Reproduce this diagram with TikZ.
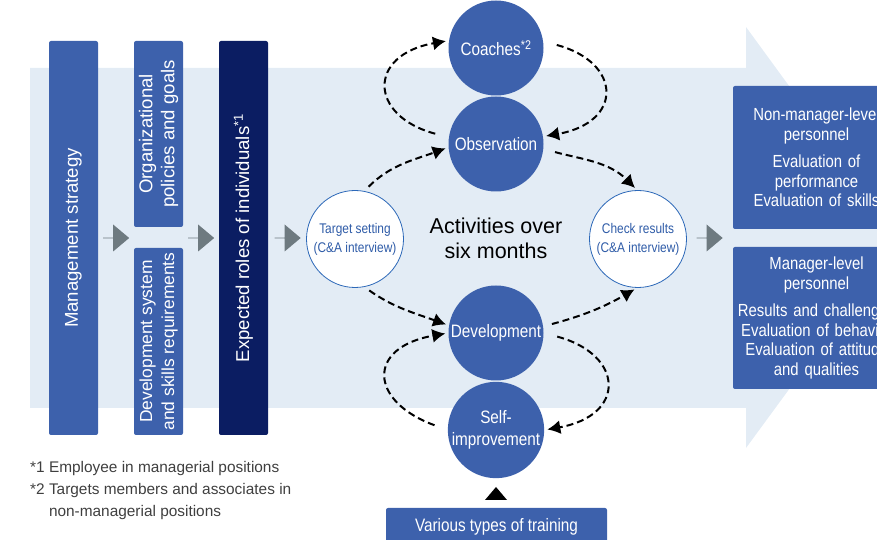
\documentclass[tikz,border=0pt]{standalone}
\usepackage{fontspec}
\setmainfont{Liberation Sans}
\newfontfamily\condfont[FakeStretch=0.85]{Liberation Sans}
\usetikzlibrary{arrows.meta,shapes.arrows}
\definecolor{midblue}{HTML}{3D61AC}
\definecolor{navy}{HTML}{0B1D62}
\definecolor{paleblue}{HTML}{E3ECF5}
\definecolor{arrowgray}{HTML}{6E7A80}
\definecolor{ringblue}{HTML}{2C68B8}
\definecolor{ringtext}{HTML}{2F5CA8}
\definecolor{notegray}{HTML}{3F3F3F}
\tikzset{
  column/.style = {rounded corners = 2pt, rotate = 90, text = white, align = center,
                   inner sep = 0pt, minimum height = 49pt,
                   font = \fontsize{18.6}{22}\selectfont},
  bluecol/.style = {column, fill = midblue},
  navycol/.style = {column, fill = navy},
  flowarrow/.style = {single arrow, fill = arrowgray, inner sep = 0pt,
                      minimum width = 27pt, minimum height = 26pt,
                      single arrow head extend = 8.5pt, single arrow tip angle = 80},
  fullcircle/.style = {circle, fill = midblue, text = white, inner sep = 0pt,
                       minimum size = 95pt, align = center,
                       font = \condfont\fontsize{18}{22}\selectfont},
  ringcircle/.style = {circle, draw = ringblue, line width = .8pt, fill = white,
                       text = ringtext, inner sep = 0pt, minimum size = 97pt,
                       align = center, font = \condfont\fontsize{14}{19}\selectfont},
  resultbox/.style = {rounded corners = 2pt, fill = midblue, text = white,
                      minimum width = 167pt, text width = 160pt, align = center,
                      inner sep = 0pt, font = \condfont\fontsize{17.5}{19.5}\selectfont},
  dashlink/.style = {line width = 2pt, dash pattern = on 7pt off 4pt,
                     -{Latex[length = 13pt, width = 14pt]}, shorten > = 3pt}
}
\begin{document}
\begin{tikzpicture}[x = 1pt, y = 1pt]
  \useasboundingbox (0,0) rectangle (877,540);
  \clip (0,0) rectangle (877,540);
  \fill [paleblue] (30,132) -- (746,132) -- (746,92) -- (900,302)
    -- (746,513) -- (746,472) -- (30,472) -- cycle;

  \node [bluecol, minimum width = 394pt] (strategy) at (73.5,302) {Management strategy};
  \node [bluecol, minimum width = 186pt] (policies) at (158.5,406) {Organizational\\policies and goals};
  \node [bluecol, minimum width = 187pt, font = \fontsize{17.4}{22}\selectfont] (system)
    at (158.5,198.5) {Development system\\and skills requirements};
  \node [navycol, minimum width = 394pt] (roles) at (243.5,302) {Expected roles of individuals\textsuperscript{*1}};

  \node [flowarrow] (flow1) at (116,302) {};
  \node [flowarrow] (flow2) at (201,302) {};
  \node [flowarrow] (flow3) at (287.5,302) {};
  \node [flowarrow] (flow4) at (709.5,302) {};

  \node [fullcircle] (coach) at (496,492) {Coaches\textsuperscript{*2}};
  \node [fullcircle] (obs) at (496,396) {Observation};
  \node [fullcircle] (dev) at (496,207) {Development};
  \node [fullcircle] (self) at (496,110) {Self-\\improvement};
  \node [ringcircle] (target) at (355,301) {Target setting\\(C\&A interview)};
  \node [ringcircle] (check) at (638,301) {Check results\\(C\&A interview)};
  \node [align = center, font = \fontsize{21.5}{25}\selectfont] (period) at (496,302)
    {Activities over\\six months};

  \node [resultbox, minimum height = 143pt] (staff) at (816.5,382.5)
    {Non-manager-level\\personnel\\[8pt]Evaluation of\\performance\\Evaluation of skills};
  \node [resultbox, minimum height = 142pt] (managers) at (816.5,222)
    {Manager-level\\personnel\\[8pt]Results and challenges\\Evaluation of behavior\\Evaluation of attitude\\and qualities};

  \node [fill = midblue, rounded corners = 2pt, text = white, minimum width = 221pt,
         minimum height = 38pt, font = \condfont\fontsize{18}{22}\selectfont]
    (training) at (496.5,13) {Various types of training};
  \fill (485,40) -- (507,40) -- (496,53) -- cycle;

  \node [anchor = north west, align = left, inner sep = 0pt, text = notegray,
         font = \fontsize{15.4}{22}\selectfont] (notes) at (30,79)
    {*1 Employee in managerial positions\\
     *2 Targets members and associates in\\
     \hphantom{*2 }non-managerial positions};

  \draw [dashlink, shorten < = 14pt] (obs.172) to [out = 165, in = 190, looseness = 2.2] (coach.171);
  \draw [dashlink, shorten < = 14pt] (coach.8) to [out = -15, in = 10, looseness = 2.2] (obs.9);
  \draw [dashlink, shorten < = 6pt] (target.79) to [out = 45, in = 200] (obs.184);
  \draw [dashlink, shorten < = 12pt] (obs.-6) to [out = -15, in = 135] (check.91);
  \draw [dashlink, shorten < = 6pt] (target.-79) to [out = -35, in = 160] (dev.171);
  \draw [dashlink, shorten < = 9pt] (dev.8) to [out = 15, in = -150] (check.-91);
  \draw [dashlink, shorten < = 14pt] (self.180) to [out = 160, in = 190, looseness = 2.2] (dev.180);
  \draw [dashlink, shorten < = 14pt] (dev.0) to [out = -15, in = 10, looseness = 2.2] (self.0);
\end{tikzpicture}
\end{document}
